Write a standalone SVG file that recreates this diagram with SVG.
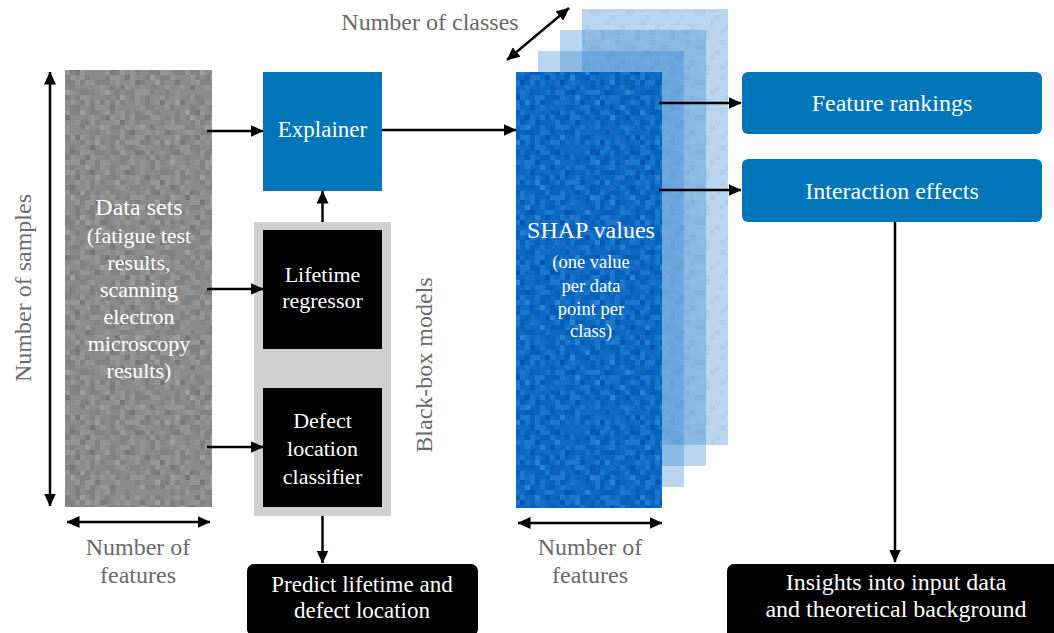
<svg xmlns="http://www.w3.org/2000/svg" width="1054" height="633" viewBox="0 0 1054 633">
<style>
text{font-family:"Liberation Serif","Times New Roman",serif}
.w{fill:#fff;text-anchor:middle}
.g{fill:#6a6a6a;text-anchor:middle;font-size:24px}
.ln{stroke:#000;stroke-width:2.5;fill:none}
.c{width:5px;height:5px}
</style>
<defs>
<marker id="ah" viewBox="0 0 13 12" markerWidth="13" markerHeight="12" refX="12.5" refY="6" orient="auto-start-reverse" markerUnits="userSpaceOnUse">
<path d="M0,0 L13,6 L0,12 z" fill="#000"/>
</marker>
<g id="cellsD">
<rect x="0" y="0" width="5" height="5"/><rect x="15" y="0" width="5" height="5"/>
<rect x="30" y="5" width="5" height="5"/><rect x="5" y="10" width="5" height="5"/>
<rect x="10" y="10" width="5" height="5"/><rect x="25" y="15" width="5" height="5"/>
<rect x="35" y="15" width="5" height="5"/><rect x="0" y="20" width="5" height="5"/>
<rect x="20" y="20" width="5" height="5"/><rect x="10" y="25" width="5" height="5"/>
<rect x="30" y="25" width="5" height="5"/><rect x="15" y="30" width="5" height="5"/>
<rect x="35" y="30" width="5" height="5"/><rect x="5" y="35" width="5" height="5"/>
<rect x="25" y="35" width="5" height="5"/><rect x="30" y="30" width="5" height="5"/>
</g>
<g id="cellsL">
<rect x="10" y="0" width="5" height="5"/><rect x="35" y="0" width="5" height="5"/>
<rect x="5" y="5" width="5" height="5"/><rect x="20" y="5" width="5" height="5"/>
<rect x="25" y="10" width="5" height="5"/><rect x="0" y="15" width="5" height="5"/>
<rect x="15" y="15" width="5" height="5"/><rect x="5" y="20" width="5" height="5"/>
<rect x="35" y="20" width="5" height="5"/><rect x="20" y="25" width="5" height="5"/>
<rect x="0" y="30" width="5" height="5"/><rect x="25" y="30" width="5" height="5"/>
<rect x="10" y="35" width="5" height="5"/><rect x="30" y="35" width="5" height="5"/>
<rect x="15" y="20" width="5" height="5"/>
</g>
<pattern id="grayN" width="40" height="40" patternUnits="userSpaceOnUse">
<rect width="40" height="40" fill="#8b8b8b"/>
<use href="#cellsD" fill="#818181"/>
<use href="#cellsL" fill="#959595"/>
</pattern>
<pattern id="blueN" width="40" height="40" patternUnits="userSpaceOnUse">
<rect width="40" height="40" fill="#0c6ac5"/>
<use href="#cellsD" fill="#065ebd"/>
<use href="#cellsL" fill="#1877cf"/>
</pattern>
<pattern id="ov" width="35" height="35" patternUnits="userSpaceOnUse">
<g fill="#000" fill-opacity="0.07">
<rect x="5" y="0" width="5" height="5"/><rect x="20" y="5" width="5" height="5"/>
<rect x="0" y="10" width="5" height="5"/><rect x="30" y="10" width="5" height="5"/>
<rect x="15" y="15" width="5" height="5"/><rect x="10" y="20" width="5" height="5"/>
<rect x="25" y="25" width="5" height="5"/><rect x="5" y="30" width="5" height="5"/>
<rect x="20" y="30" width="5" height="5"/>
</g>
<g fill="#fff" fill-opacity="0.08">
<rect x="25" y="0" width="5" height="5"/><rect x="10" y="5" width="5" height="5"/>
<rect x="15" y="10" width="5" height="5"/><rect x="0" y="20" width="5" height="5"/>
<rect x="30" y="20" width="5" height="5"/><rect x="15" y="25" width="5" height="5"/>
<rect x="0" y="30" width="5" height="5"/>
</g>
</pattern>
</defs>
<rect width="1054" height="633" fill="#fff"/>

<g id="data-sets">
<rect x="65" y="70" width="147" height="437" fill="url(#grayN)"/>
<rect x="65" y="70" width="147" height="437" fill="url(#ov)"/>
<g class="w" font-size="22">
<text x="139" y="215" font-size="24">Data sets</text>
<text x="139" y="243">(fatigue test</text>
<text x="139" y="270">results,</text>
<text x="139" y="297">scanning</text>
<text x="139" y="324">electron</text>
<text x="139" y="351">microscopy</text>
<text x="139" y="378">results)</text>
</g>
</g>

<g id="dim-labels">
<text class="g" transform="translate(31,288) rotate(-90)">Number of samples</text>
<text class="g" x="138" y="555">Number of</text>
<text class="g" x="138" y="583">features</text>
<text class="g" x="590" y="555">Number of</text>
<text class="g" x="590" y="583">features</text>
<text class="g" x="430" y="30">Number of classes</text>
</g>

<g id="explainer">
<rect x="263" y="72" width="119" height="119" fill="#0175ba"/>
<text class="w" x="322.5" y="137" font-size="23">Explainer</text>
</g>

<g id="black-box-models">
<rect x="254" y="222" width="137" height="294" fill="#d0d0d0"/>
<text class="g" transform="translate(432,365) rotate(-90)">Black-box models</text>
</g>

<g id="lifetime-regressor">
<rect x="263" y="230" width="119" height="119" fill="#000"/>
<text class="w" x="322.5" y="282" font-size="22">Lifetime</text>
<text class="w" x="322.5" y="308" font-size="22">regressor</text>
</g>

<g id="defect-classifier">
<rect x="263" y="388" width="119" height="119" fill="#000"/>
<text class="w" x="322.5" y="428" font-size="22">Defect</text>
<text class="w" x="322.5" y="456" font-size="22">location</text>
<text class="w" x="322.5" y="484" font-size="22">classifier</text>
</g>

<g id="predict">
<rect x="247" y="564" width="231" height="72" rx="7" fill="#000"/>
<text class="w" x="362" y="592" font-size="23">Predict lifetime and</text>
<text class="w" x="362" y="618" font-size="23">defect location</text>
</g>

<g id="shap-values">
<g fill="#2c81ce" fill-opacity="0.33">
<rect x="582" y="9" width="146" height="436"/>
<rect x="560" y="30" width="146" height="436"/>
<rect x="538" y="51" width="146" height="436"/>
</g>
<rect x="582" y="9" width="146" height="436" fill="url(#ov)" opacity="0.5"/>
<rect x="516" y="72" width="146" height="436" fill="url(#blueN)"/>
<rect x="516" y="72" width="146" height="436" fill="url(#ov)"/>
<text class="w" x="591" y="238" font-size="24">SHAP values</text>
<g class="w" font-size="18.5">
<text x="591" y="268">(one value</text>
<text x="591" y="292">per data</text>
<text x="591" y="315">point per</text>
<text x="591" y="337">class)</text>
</g>
</g>

<g id="feature-rankings">
<rect x="742" y="72" width="300" height="62" rx="6" fill="#0175ba"/>
<text class="w" x="892" y="111" font-size="24">Feature rankings</text>
</g>

<g id="interaction-effects">
<rect x="742" y="159" width="300" height="63" rx="6" fill="#0175ba"/>
<text class="w" x="892" y="199" font-size="24">Interaction effects</text>
</g>

<g id="insights">
<rect x="727" y="564" width="340" height="80" rx="7" fill="#000"/>
<text class="w" x="896" y="590" font-size="24">Insights into input data</text>
<text class="w" x="896" y="617" font-size="24">and theoretical background</text>
</g>

<g id="connectors" class="ln">
<line x1="50" y1="72" x2="50" y2="506" marker-start="url(#ah)" marker-end="url(#ah)"/>
<line x1="67" y1="522" x2="210" y2="522" marker-start="url(#ah)" marker-end="url(#ah)"/>
<line x1="518" y1="523" x2="662" y2="523" marker-start="url(#ah)" marker-end="url(#ah)"/>
<line x1="507" y1="60" x2="569" y2="8" marker-start="url(#ah)" marker-end="url(#ah)"/>
<line x1="207" y1="131" x2="263" y2="131" marker-end="url(#ah)"/>
<line x1="207" y1="289" x2="263" y2="289" marker-end="url(#ah)"/>
<line x1="207" y1="447" x2="263" y2="447" marker-end="url(#ah)"/>
<line x1="322.5" y1="222" x2="322.5" y2="191" marker-end="url(#ah)"/>
<line x1="322.5" y1="516" x2="322.5" y2="563" marker-end="url(#ah)"/>
<line x1="382" y1="130" x2="516" y2="130" marker-end="url(#ah)"/>
<line x1="659" y1="103" x2="741" y2="103" marker-end="url(#ah)"/>
<line x1="659" y1="190" x2="741" y2="190" marker-end="url(#ah)"/>
<line x1="895" y1="222" x2="895" y2="562" marker-end="url(#ah)"/>
</g>
</svg>
